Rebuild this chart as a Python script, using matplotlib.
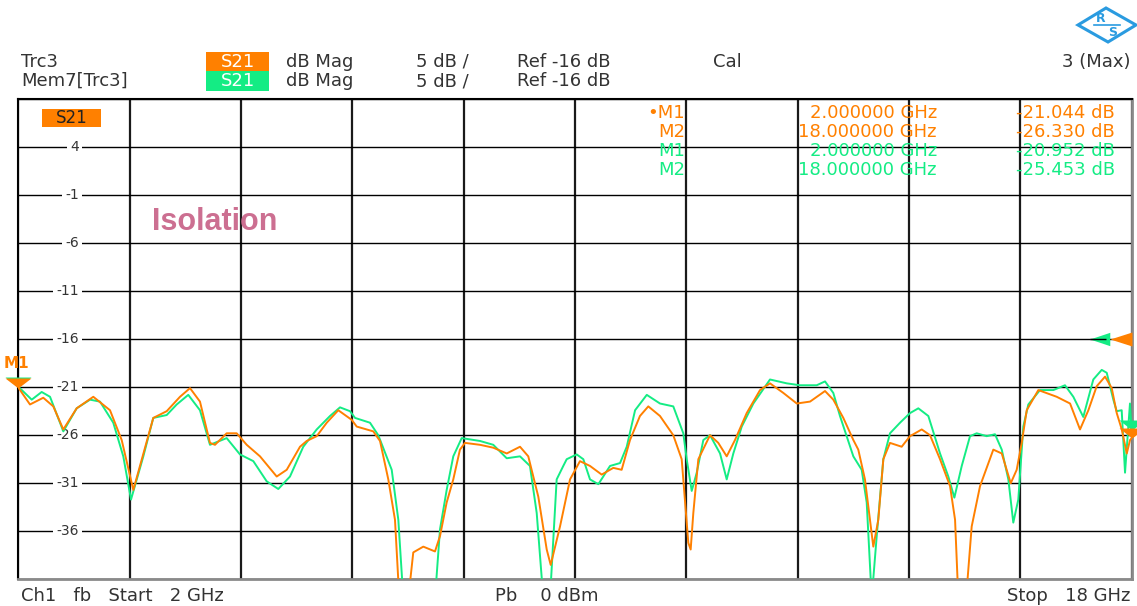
import numpy as np
import matplotlib.pyplot as plt
from matplotlib.patches import Rectangle, Polygon
from matplotlib.path import Path
from matplotlib.lines import Line2D

# S21 isolation trace (Trc3) and memory trace (Mem7), GHz / dB
trc_f = [2.000, 2.168, 2.359, 2.503, 2.647, 2.839, 3.078, 3.318, 3.486, 3.653,
         3.940, 4.133, 4.324, 4.468, 4.611, 4.755, 4.827, 4.995, 5.139, 5.283,
         5.474, 5.714, 5.858, 6.049, 6.145, 6.289, 6.433, 6.599, 6.792, 6.864,
         7.102, 7.199, 7.318, 7.414, 7.476, 7.605, 7.677, 7.821, 7.989, 8.061,
         8.157, 8.252, 8.348, 8.420, 8.636, 8.827, 9.020, 9.211, 9.330, 9.474,
         9.595, 9.652, 9.786, 9.930, 10.073, 10.217, 10.385, 10.552, 10.672, 10.792,
         10.935, 11.055, 11.223, 11.414, 11.535, 11.630, 11.664, 11.702, 11.774, 11.942,
         12.061, 12.182, 12.301, 12.469, 12.661, 12.804, 12.996, 13.189, 13.380, 13.595,
         13.714, 13.858, 14.002, 14.073, 14.169, 14.289, 14.361, 14.433, 14.529, 14.697,
         14.816, 14.985, 15.104, 15.248, 15.392, 15.464, 15.511, 15.622, 15.703, 15.823,
         16.014, 16.135, 16.264, 16.350, 16.422, 16.494, 16.661, 16.925, 17.117, 17.260,
         17.380, 17.500, 17.620, 17.716, 17.788, 17.860, 17.932, 17.979, 18.000]
trc_db = [-21.04, -22.8, -22.1, -23.0, -25.4, -23.2, -22.0, -23.4, -26.5, -31.7,
          -24.2, -23.5, -22.0, -21.1, -22.5, -26.8, -27.0, -25.8, -25.8, -27.0,
          -28.2, -30.3, -29.6, -27.2, -26.6, -26.1, -24.7, -23.4, -24.4, -25.1,
          -25.6, -26.6, -30.6, -34.8, -43.0, -43.0, -38.2, -37.6, -38.1, -36.5,
          -33.0, -30.6, -27.5, -26.8, -27.0, -27.3, -27.9, -27.2, -28.2, -32.4,
          -37.9, -39.5, -35.5, -30.6, -28.7, -29.2, -30.1, -29.4, -29.6, -26.5,
          -24.0, -23.0, -24.0, -26.0, -28.5, -37.2, -37.9, -34.1, -28.5, -26.0,
          -26.8, -28.2, -26.5, -23.7, -21.3, -20.6, -21.6, -22.7, -22.5, -21.4,
          -22.3, -24.2, -26.5, -27.5, -30.6, -37.6, -34.8, -28.5, -26.8, -27.2,
          -26.1, -25.4, -26.0, -28.5, -31.3, -34.8, -43.0, -43.0, -35.5, -31.3,
          -27.5, -27.9, -31.0, -29.6, -26.8, -23.4, -21.3, -22.0, -22.7, -25.4,
          -23.4, -20.9, -19.9, -21.1, -23.7, -25.4, -27.9, -26.5, -26.33]

mem_f = [2.000, 2.193, 2.336, 2.456, 2.647, 2.839, 3.031, 3.174, 3.365, 3.509,
         3.620, 3.797, 3.940, 4.133, 4.277, 4.443, 4.611, 4.755, 4.995, 5.186,
         5.378, 5.570, 5.737, 5.905, 6.096, 6.289, 6.480, 6.624, 6.768, 6.840,
         7.055, 7.174, 7.367, 7.462, 7.534, 7.989, 8.061, 8.157, 8.252, 8.373,
         8.636, 8.827, 9.020, 9.211, 9.354, 9.451, 9.546, 9.642, 9.738, 9.833,
         9.882, 10.026, 10.121, 10.217, 10.337, 10.505, 10.649, 10.745, 10.865, 11.033,
         11.223, 11.414, 11.558, 11.607, 11.679, 11.751, 11.846, 11.942, 12.086, 12.182,
         12.277, 12.398, 12.565, 12.804, 13.044, 13.235, 13.475, 13.595, 13.714, 13.810,
         13.906, 14.002, 14.122, 14.194, 14.266, 14.338, 14.433, 14.529, 14.673, 14.816,
         14.936, 15.080, 15.248, 15.367, 15.454, 15.560, 15.679, 15.775, 15.919, 16.038,
         16.135, 16.230, 16.301, 16.373, 16.445, 16.517, 16.685, 16.877, 17.044, 17.164,
         17.307, 17.451, 17.572, 17.644, 17.739, 17.787, 17.859, 17.907, 17.978, 18.000]
mem_db = [-20.95, -22.3, -21.5, -22.0, -25.6, -23.2, -22.3, -22.5, -24.7, -28.2,
          -32.7, -28.2, -24.2, -23.9, -22.8, -21.8, -23.4, -27.0, -26.3, -28.0,
          -28.7, -30.8, -31.6, -30.3, -27.2, -25.4, -24.0, -23.1, -23.5, -24.2,
          -24.7, -26.0, -29.6, -34.8, -43.0, -43.0, -35.8, -31.7, -28.2, -26.3,
          -26.6, -27.0, -28.4, -28.2, -29.2, -34.1, -43.0, -43.0, -30.6, -29.2,
          -28.5, -28.0, -28.5, -30.6, -31.1, -29.2, -28.9, -27.2, -23.4, -21.8,
          -22.7, -23.0, -25.8, -28.5, -31.8, -29.9, -26.5, -26.0, -27.9, -30.6,
          -27.9, -25.1, -22.7, -20.2, -20.6, -20.8, -20.8, -20.4, -21.6, -24.0,
          -26.1, -28.2, -29.6, -33.0, -43.0, -36.5, -28.5, -25.8, -24.7, -23.7,
          -23.2, -24.0, -27.9, -30.3, -32.5, -29.2, -26.1, -25.8, -26.1, -25.9,
          -27.5, -30.6, -35.1, -32.7, -25.1, -22.8, -21.3, -21.3, -20.8, -22.0,
          -24.1, -20.2, -19.2, -19.5, -22.3, -23.5, -23.4, -29.9, -22.7, -25.45]

# marker readouts
mk_names = ['M1', 'M2']
mk_freq = [2.0, 18.0]
trc_mk = [-21.044, -26.330]
mem_mk = [-20.952, -25.453]
ref_level = -16

ORANGE = '#ff8000'
GREEN = '#14ec84'
TXT = '#333333'

W, H = 1137, 606
fig = plt.figure(figsize=(W / 100, H / 100), dpi=100)
plt.rcParams['font.family'] = ['DejaVu Sans']


def fx(x):
    return x / W


def fy(y):
    return 1 - y / H


ax = fig.add_axes([fx(18.3), fy(579.3), (1131.5 - 18.3) / W, (579.3 - 99) / H])
ax.set_xlim(2, 18)
ax.set_ylim(-41, 9)
ax.set_xticks(np.linspace(2, 18, 11))
ax.set_yticks(np.arange(-41, 10, 5))
ax.tick_params(length=0, labelbottom=False, labelleft=False)
ax.xaxis.grid(True, color='#1a1a1a', lw=1.6)
ax.yaxis.grid(True, color='black', lw=1.0)
ax.set_axisbelow(True)
for s in ['left', 'top']:
    ax.spines[s].set_color('black')
    ax.spines[s].set_linewidth(1.5)
for s in ['right', 'bottom']:
    ax.spines[s].set_color('#8a8a8a')
    ax.spines[s].set_linewidth(2.0)

# y labels sit on the grid lines
for v in range(4, -37, -5):
    ax.text((79 - 18.3) / 1113.2, v, str(v), transform=ax.get_yaxis_transform(),
            ha='right', va='center', fontsize=10, color=TXT, zorder=2,
            bbox=dict(fc='white', ec='none', pad=2.5))

ax.plot(mem_f, mem_db, color=GREEN, lw=1.4, zorder=3)
ax.plot(trc_f, trc_db, color=ORANGE, lw=1.4, zorder=4)

# marker symbols (tip on the value)
tri_down = Path([(-1.3, 1), (1.3, 1), (0, 0), (-1.3, 1)])
for f, v in zip(mk_freq, mem_mk):
    ax.plot(f, v, marker=tri_down, ms=18.7, color=GREEN, mec='none',
            clip_on=False, zorder=5)
for f, v in zip(mk_freq, trc_mk):
    ax.plot(f, v, marker=tri_down, ms=18.7, color=ORANGE, mec='none',
            clip_on=False, zorder=6)
fig.text(fx(16), fy(364), 'M1', color=ORANGE, fontsize=11, fontweight='bold',
         ha='center', va='center')

# reference level arrows at the right edge
ref_trc = Path([(0, 0.32), (0, -0.32), (-1, 0), (0, 0.32)])
ref_mem = Path([(-1.0, 0.3), (-1.0, -0.3), (-1.9, 0), (-1.0, 0.3)])
ref_dash = Path([(-1.0, 0), (-1.6, 0)], [Path.MOVETO, Path.LINETO])
ax.plot(18, ref_level, marker=ref_mem, ms=60.8, color=GREEN, mec='none',
        clip_on=False, zorder=5)
ax.plot(18, ref_level, marker=ref_dash, ms=60.8, color='black', mew=1.0,
        ls='none', clip_on=False, zorder=5.5)
ax.plot(18, ref_level, marker=ref_trc, ms=31.7, color=ORANGE, mec='none',
        clip_on=False, zorder=6)


# header
def box(x0, y0, x1, y1, color):
    fig.add_artist(Rectangle((fx(x0), fy(y1)), fx(x1) - fx(x0), fy(y0) - fy(y1),
                             transform=fig.transFigure, fc=color, ec='none'))


fs = 13
box(206, 52, 269, 71, ORANGE)
box(206, 71, 269, 91, GREEN)
for yy, name in [(62, 'Trc3'), (81, 'Mem7[Trc3]')]:
    fig.text(fx(21), fy(yy), name, fontsize=fs, color=TXT, va='center')
    fig.text(fx(237.5), fy(yy), 'S21', fontsize=fs, color='white', va='center', ha='center')
    fig.text(fx(286), fy(yy), 'dB Mag', fontsize=fs, color=TXT, va='center')
    fig.text(fx(416), fy(yy), '5 dB /', fontsize=fs, color=TXT, va='center')
    fig.text(fx(517), fy(yy), 'Ref -16 dB', fontsize=fs, color=TXT, va='center')
fig.text(fx(713), fy(62), 'Cal', fontsize=fs, color=TXT, va='center')
fig.text(fx(1130), fy(62), '3 (Max)', fontsize=fs, color=TXT, va='center', ha='right')

# S21 tag inside the diagram
box(42, 109, 101, 127, ORANGE)
fig.text(fx(71.5), fy(118), 'S21', fontsize=12, color='#222222', va='center', ha='center')

# marker table
rows = []
for n, f, v in zip(mk_names, mk_freq, trc_mk):
    rows.append((n, f, v, ORANGE))
for n, f, v in zip(mk_names, mk_freq, mem_mk):
    rows.append((n, f, v, GREEN))
for i, (n, f, v, c) in enumerate(rows):
    yy = 113 + 19 * i
    label = '\u2022' + n if i == 0 else n
    fig.text(fx(685), fy(yy), label, fontsize=fs, color=c, va='center', ha='right', zorder=5)
    fig.text(fx(937), fy(yy), f'{f:.6f} GHz', fontsize=fs, color=c, va='center', ha='right', zorder=5)
    fig.text(fx(1115), fy(yy), f'{v:.3f} dB', fontsize=fs, color=c, va='center', ha='right', zorder=5)

fig.text(fx(215), fy(222), 'Isolation', fontsize=22, fontweight='bold',
         family='Liberation Sans', color='#cc6f91', ha='center', va='center')

# footer
fig.text(fx(21), fy(596), 'Ch1   fb   Start   2 GHz', fontsize=fs, color=TXT, va='center')
fig.text(fx(495), fy(596), 'Pb    0 dBm', fontsize=fs, color=TXT, va='center')
fig.text(fx(1130), fy(596), 'Stop   18 GHz', fontsize=fs, color=TXT, va='center', ha='right')

# R&S logo
logo = [(1078, 25), (1106, 8), (1136, 25), (1108, 42)]
fig.add_artist(Polygon([(fx(x), fy(y)) for x, y in logo], closed=True,
                       transform=fig.transFigure, fc='white', ec='#2a9be0', lw=2.2))
fig.add_artist(Line2D([fx(1094), fx(1120)], [fy(25), fy(25)], color='#2a9be0', lw=1.2))
fig.text(fx(1101), fy(18), 'R', fontsize=9, fontweight='bold', color='#2a9be0', ha='center', va='center')
fig.text(fx(1113), fy(32), 'S', fontsize=9, fontweight='bold', color='#2a9be0', ha='center', va='center')

fig.savefig('out.png', dpi=100)
